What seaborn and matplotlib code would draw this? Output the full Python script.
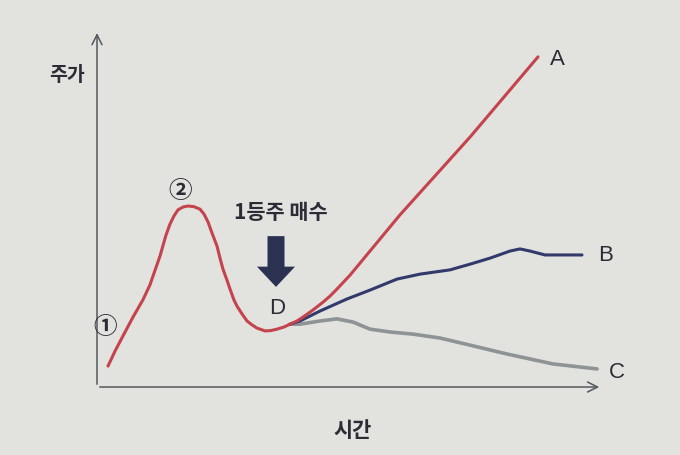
import matplotlib
matplotlib.use("Agg")
import matplotlib.pyplot as plt
import seaborn as sns
import pandas as pd

# price path of the leading stock (red): rise, peak 2, dip to D, then up to A
red_time = [2.2, 3.6, 5.2, 7.2, 9.2, 10.6, 12.6, 13.8, 14.6, 15.4, 16.2, 17.2, 18.2,
            19.4, 20.6, 21.4, 22.2, 23.0, 24.0, 24.6, 25.2, 26.0, 26.6, 27.4, 28.0,
            29.0, 30.0, 31.0, 32.0, 33.6, 34.8, 36.0, 37.4, 38.6, 40.0, 41.2, 43.2,
            45.2, 46.6, 48.0, 49.2, 50.6, 55.6, 60.6, 74.6, 88.2]
red_price = [5.9, 10.1, 14.4, 19.7, 24.6, 28.8, 36.9, 42.8, 45.9, 48.2, 49.9, 50.7, 51.0,
             50.8, 50.1, 48.7, 46.5, 43.4, 39.7, 36.3, 33.2, 30.1, 27.6, 24.5, 22.8,
             20.6, 18.6, 17.5, 16.6, 15.8, 15.9, 16.3, 16.9, 17.7, 18.6, 19.7, 21.7,
             23.9, 25.6, 27.6, 29.4, 31.5, 40.0, 48.5, 70.4, 93.0]

# follower B (navy)
blue_time = [38.6, 40.6, 44.6, 50.0, 54.6, 60.0, 64.6, 70.6, 74.6, 78.6, 82.6, 84.6,
             86.6, 89.6, 92.6, 97.0]
blue_price = [17.7, 18.6, 21.4, 24.8, 27.3, 30.4, 31.8, 33.0, 34.6, 36.3, 38.3, 38.9,
              38.3, 37.2, 37.2, 37.2]

# follower C (gray)
gray_time = [38.6, 40.6, 44.6, 48.0, 51.2, 54.6, 58.6, 63.2, 68.6, 74.6, 82.0, 91.2, 100.0]
gray_price = [17.7, 17.7, 18.6, 19.2, 18.3, 16.3, 15.5, 14.9, 13.8, 11.8, 9.3, 6.5, 5.1]

end_labels = ["A", "B", "C"]

red = "#c4434c"
navy = "#323a6c"
gray = "#8e9396"
ink = "#2c2c36"
paper = "#e2e2df"

sns.set_theme(style="white")
plt.rcParams["font.family"] = ["Noto Sans CJK KR", "DejaVu Sans"]

fig = plt.figure(figsize=(6.8, 4.56), dpi=100, facecolor=paper)
ax = fig.add_axes([0, 0, 1, 1])
ax.set_facecolor(paper)

df_red = pd.DataFrame({"time": red_time, "price": red_price})
df_blue = pd.DataFrame({"time": blue_time, "price": blue_price})
df_gray = pd.DataFrame({"time": gray_time, "price": gray_price})

line_kw = dict(sort=False, ax=ax, solid_capstyle="round", solid_joinstyle="round")
sns.lineplot(data=df_gray, x="time", y="price", color=gray, lw=2.6, **line_kw)
sns.lineplot(data=df_blue, x="time", y="price", color=navy, lw=2.2, **line_kw)
sns.lineplot(data=df_red, x="time", y="price", color=red, lw=2.2, **line_kw)

ax.set_xlim(-19.4, 116.6)
ax.set_ylim(-19.15, 109.3)
for s in ax.spines.values():
    s.set_visible(False)
ax.set_xticks([])
ax.set_yticks([])
ax.set_xlabel("")
ax.set_ylabel("")

# axes drawn as open arrows
axis_style = dict(arrowstyle="->", color="#55575c", lw=1.1, mutation_scale=18)
ax.annotate("", xy=(101, 0), xytext=(0, 0), arrowprops=axis_style)
ax.annotate("", xy=(0, 100.5), xytext=(0, 0), arrowprops=axis_style)

ax.text(-6.0, 88.0, "주가", ha="center", va="center", fontsize=14,
        fontweight="bold", color=ink)
ax.text(51.2, -12.0, "시간", ha="center", va="center", fontsize=15,
        fontweight="bold", color=ink)

ax.text(1.6, 17.2, "①", ha="center", va="center", fontsize=17,
        fontweight="bold", color=ink)
ax.text(16.6, 55.5, "②", ha="center", va="center", fontsize=17,
        fontweight="bold", color=ink)

ax.text(36.8, 49.4, "1등주 매수", ha="center", va="center", fontsize=15,
        fontweight="bold", color=ink)
ax.arrow(35.8, 42.5, 0, -14.3, width=3.4, head_width=7.6, head_length=5.7,
         length_includes_head=True, color="#2b3150", lw=0)
ax.text(36.0, 22.5, "D", ha="center", va="center", fontsize=16,
        family="Liberation Sans", color=ink)

ends = [(red_time[-1], red_price[-1]), (blue_time[-1], blue_price[-1]),
        (gray_time[-1], gray_price[-1])]
offsets = [(3.8, -0.5), (4.8, 0.0), (4.0, -0.6)]
for lab, (tx, py), (dx, dy) in zip(end_labels, ends, offsets):
    ax.text(tx + dx, py + dy, lab, ha="center", va="center", fontsize=16,
            family="Liberation Sans", color=ink)

fig.savefig("out.png", dpi=100, facecolor=paper)
plt.close(fig)
